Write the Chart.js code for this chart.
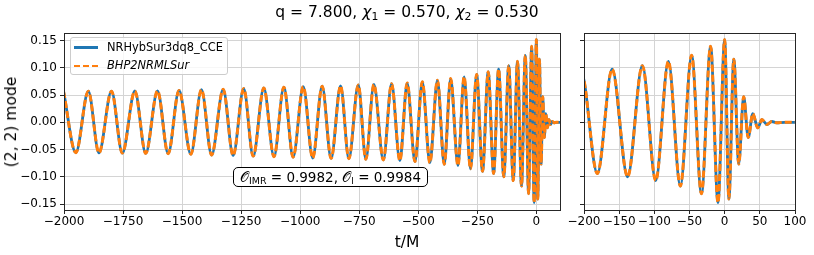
<!DOCTYPE html>
<html>
<head>
<meta charset="utf-8">
<script src="https://cdn.jsdelivr.net/npm/chart.js@4.4.0/dist/chart.umd.min.js"></script>
<style>
  body { margin: 0; background: #fff; }
  #fig { position: relative; width: 814px; height: 255px; overflow: hidden;
         font-family: "DejaVu Sans", sans-serif; color: #000; }
  .abs { position: absolute; }
  #left { left: 0; top: 0; width: 565px; height: 255px; }
  #right { left: 565px; top: 0; width: 249px; height: 255px; }
  #title { left: 0; top: 3px; width: 814px; text-align: center; font-size: 15.5px; line-height: 18px; white-space: nowrap; }
  #xlabel { left: 0; top: 233px; width: 814px; text-align: center; font-size: 15.5px; line-height: 18px; }
  #ylabel { left: 11px; top: 122px; font-size: 15.5px; line-height: 18px; white-space: nowrap;
            transform: translate(-50%, -50%) rotate(-90deg); }
  #legend { left: 70px; top: 37px; width: 156px; height: 36px; border: 1px solid #cccccc;
            border-radius: 3px; background: rgba(255,255,255,0.8); font-size: 11.4px; }
  .sw { position: absolute; left: 3px; width: 24px; height: 2.5px; }
  .solid { background: #1f77b4; top: 8px; }
  .dash { top: 26.5px; background: repeating-linear-gradient(90deg, #ff7f0e 0 6px, transparent 6px 9px); }
  .txt { position: absolute; left: 36px; line-height: 13px; white-space: nowrap; }
  #note { left: 233px; top: 167px; width: 193px; height: 18px; border: 1px solid #000; border-radius: 5px;
          background: #fff; font-size: 13.5px; line-height: 18px; text-align: center; white-space: nowrap; }
  sub { font-size: 70%; vertical-align: -0.25em; line-height: 0; }
</style>
</head>
<body>
<div id="fig">
  <div class="abs" id="left"><canvas id="leftCanvas" width="565" height="255"></canvas></div>
  <div class="abs" id="right"><canvas id="rightCanvas" width="249" height="255"></canvas></div>
  <div class="abs" id="title">q = 7.800, <i>χ</i><sub>1</sub> = 0.570, <i>χ</i><sub>2</sub> = 0.530</div>
  <div class="abs" id="xlabel">t/M</div>
  <div class="abs" id="ylabel">(2, 2) mode</div>
  <div class="abs" id="legend">
    <span class="sw solid"></span><span class="txt" style="top:3px">NRHybSur3dq8_CCE</span>
    <span class="sw dash"></span><span class="txt" style="top:21px"><i>BHP2NRMLSur</i></span>
  </div>
  <div class="abs" id="note">𝒪<sub>IMR</sub> = 0.9982, 𝒪<sub>l</sub> = 0.9984</div>
</div>
<script>
"use strict";

// extrema of the (2,2) mode (t/M)
const timeM = [
  -2002, -1950, -1897, -1852, -1799, -1753, -1700, -1654, -1604, -1559,
  -1513, -1463, -1418, -1375, -1326, -1284, -1239, -1199, -1154, -1111,
  -1069, -1030, -987, -947, -907, -869, -829, -794, -754, -722,
  -688, -648, -613, -578, -547, -514, -483, -451, -419, -390,
  -363, -332, -306, -279, -253, -228, -204, -181, -160, -138,
  -117, -98, -80, -63, -47, -33, -20, -9.5, 0, 6,
  13, 20, 27, 33.5, 40, 47, 53, 60, 67, 74,
  85, 120
];
const nrHybSur = [
  0.0570, -0.0557, 0.0570, -0.0560, 0.0572, -0.0565, 0.0575, -0.0570, 0.0578, -0.0575,
  0.0585, -0.0585, 0.0600, -0.0600, 0.0605, -0.0610, 0.0620, -0.0620, 0.0630, -0.0630,
  0.0645, -0.0640, 0.0655, -0.0655, 0.0662, -0.0662, 0.0670, -0.0668, 0.0685, -0.0680,
  0.0696, -0.0690, 0.0708, -0.0705, 0.0720, -0.0720, 0.0744, -0.0745, 0.0774, -0.0770,
  0.0804, -0.0795, 0.0835, -0.0854, 0.0878, -0.0900, 0.0927, -0.0940, 0.0975, -0.1000,
  0.1040, -0.1070, 0.1120, -0.1170, 0.1230, -0.1310, 0.1395, -0.1475, 0.1520, -0.1410,
  0.1160, -0.0765, 0.0470, -0.0280, 0.0160, -0.0100, 0.0050, -0.0040, 0.0015, -0.0008,
  0, 0
];
const bhp2NRML = [
  0.0570, -0.0557, 0.0570, -0.0560, 0.0572, -0.0565, 0.0575, -0.0570, 0.0578, -0.0575,
  0.0585, -0.0585, 0.0600, -0.0600, 0.0605, -0.0610, 0.0620, -0.0620, 0.0630, -0.0630,
  0.0645, -0.0640, 0.0655, -0.0655, 0.0662, -0.0662, 0.0670, -0.0668, 0.0685, -0.0680,
  0.0696, -0.0690, 0.0708, -0.0705, 0.0720, -0.0720, 0.0744, -0.0745, 0.0774, -0.0770,
  0.0804, -0.0795, 0.0835, -0.0854, 0.0878, -0.0900, 0.0927, -0.0940, 0.0975, -0.1000,
  0.1040, -0.1070, 0.1120, -0.1170, 0.1230, -0.1310, 0.1395, -0.1475, 0.1520, -0.1410,
  0.1160, -0.0765, 0.0470, -0.0280, 0.0160, -0.0100, 0.0050, -0.0040, 0.0015, -0.0008,
  0, 0
];

const yTicks = [-0.15, -0.1, -0.05, 0, 0.05, 0.1, 0.15];
const xTicksLeft = [-2000, -1750, -1500, -1250, -1000, -750, -500, -250, 0];
const xTicksRight = [-200, -150, -100, -50, 0, 50, 100];

const toPoints = (ts, hs) => ts.map((t, i) => ({ x: t, y: hs[i] }));
const minus = s => s.replace("-", "\u2212");
const tickFont = { family: "DejaVu Sans", size: 12 };

// matplotlib-like box round the axes
const frame = {
  id: "frame",
  afterDatasetsDraw(chart) {
    const { ctx, chartArea: a } = chart;
    ctx.save();
    ctx.strokeStyle = "#262626";
    ctx.lineWidth = 1;
    ctx.strokeRect(Math.round(a.left) + 0.5, Math.round(a.top) + 0.5,
      Math.round(a.right - a.left), Math.round(a.bottom - a.top));
    ctx.restore();
  }
};

const makeDatasets = () => [
  {
    label: "BHP2NRMLSur",
    data: toPoints(timeM, bhp2NRML),
    borderColor: "#ff7f0e",
    borderWidth: 3,
    borderDash: [7, 3],
    pointRadius: 0,
    cubicInterpolationMode: "monotone",
    order: 1,
    clip: 0
  },
  {
    label: "NRHybSur3dq8_CCE",
    data: toPoints(timeM, nrHybSur),
    borderColor: "#1f77b4",
    borderWidth: 2.8,
    pointRadius: 0,
    cubicInterpolationMode: "monotone",
    order: 2,
    clip: 0
  }
];

const makeChart = (canvas, xMin, xMax, xTicks, yWidth, padRight, showYLabels) =>
  new Chart(canvas.getContext("2d"), {
    type: "line",
    data: { datasets: makeDatasets() },
    options: {
      responsive: false,
      animation: false,
      devicePixelRatio: 1,
      events: [],
      layout: { padding: { top: 33, right: padRight, left: 0, bottom: 0 } },
      plugins: { legend: { display: false }, tooltip: { enabled: false } },
      scales: {
        x: {
          type: "linear",
          min: xMin,
          max: xMax,
          afterBuildTicks: s => { s.ticks = xTicks.map(v => ({ value: v })); },
          afterFit: s => { s.height = 45; },
          border: { display: false },
          grid: { color: "#d4d4d4", tickColor: "#262626", tickLength: 4 },
          ticks: {
            font: tickFont, color: "#000", padding: 1, maxRotation: 0, autoSkip: false,
            callback: v => minus(String(v))
          }
        },
        y: {
          min: -0.161,
          max: 0.164,
          afterBuildTicks: s => { s.ticks = yTicks.map(v => ({ value: v })); },
          afterFit: s => { s.width = yWidth; },
          border: { display: false },
          grid: { color: "#d4d4d4", tickColor: "#262626", tickLength: 4 },
          ticks: {
            display: showYLabels,
            font: tickFont, color: "#000", padding: 3,
            callback: v => minus(v.toFixed(2))
          }
        }
      }
    },
    plugins: [frame]
  });

makeChart(document.getElementById("leftCanvas"), -2000, 100, xTicksLeft, 64, 5, true);
makeChart(document.getElementById("rightCanvas"), -200, 100, xTicksRight, 19, 19, false);
</script>
</body>
</html>
